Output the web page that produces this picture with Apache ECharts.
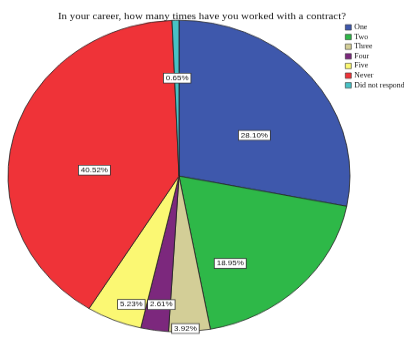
<!DOCTYPE html>
<html>
<head>
<meta charset="utf-8">
<script src="https://cdn.jsdelivr.net/npm/echarts@6/dist/echarts.min.js"></script>
<style>
html,body{margin:0;padding:0;background:#fff;overflow:hidden;}
#wrap{position:absolute;left:0;top:0;width:404px;height:359px;overflow:hidden;}
#chart{position:absolute;left:0;top:0;width:404px;height:394px;transform:scaleY(0.9112);transform-origin:0 0;}
</style>
</head>
<body>
<div id="wrap"><div id="chart"></div></div>
<script>
const titleText = 'In your career, how many times have you worked with a contract?';
const categories = ['One', 'Two', 'Three', 'Four', 'Five', 'Never', 'Did not respond'];
const percents = [28.10, 18.95, 3.92, 2.61, 5.23, 40.52, 0.65];
const colors = ['#3E58AC', '#2EB848', '#D3CE97', '#7C287D', '#FBF873', '#EF3338', '#48C2C5'];
const labelOffsets = [[7, 11.5], [-11, 33], [1, 79], [-5, 53.5], [-14, 59], [1, 16], [0, -19]];

const chart = echarts.init(document.getElementById('chart'), null, {renderer: 'canvas'});
const data = categories.map((name, i) => ({
  name: name,
  value: percents[i],
  itemStyle: {color: colors[i]},
  label: {offset: labelOffsets[i]}
}));
chart.setOption({
  animation: false,
  backgroundColor: '#fff',
  title: {
    text: titleText,
    left: 197, top: 8,
    textAlign: 'center',
    textStyle: {fontFamily: 'Liberation Serif', fontSize: 10.9, fontWeight: 'normal', color: '#111'}
  },
  legend: {
    orient: 'vertical',
    left: 345, top: 26,
    itemWidth: 6, itemHeight: 6,
    itemGap: 2.6,
    icon: 'rect',
    padding: 0,
    selectedMode: false,
    itemStyle: {borderColor: '#333', borderWidth: 0.6},
    textStyle: {fontFamily: 'Liberation Serif', fontSize: 7.8, color: '#111', padding: [0, 0, 0, -2]},
    data: categories
  },
  series: [{
    type: 'pie',
    center: [179, 193.2],
    radius: 171,
    startAngle: 90,
    clockwise: true,
    avoidLabelOverlap: false,
    silent: true,
    itemStyle: {borderColor: '#222', borderWidth: 0.8},
    label: {
      show: true,
      position: 'inside',
      formatter: p => p.value.toFixed(2) + '%',
      fontFamily: 'Liberation Sans',
      fontSize: 8,
      color: '#111',
      backgroundColor: '#fff',
      borderColor: '#333',
      borderWidth: 0.8,
      padding: [1, 2]
    },
    labelLine: {show: false},
    data: data
  }]
});
</script>
</body>
</html>
